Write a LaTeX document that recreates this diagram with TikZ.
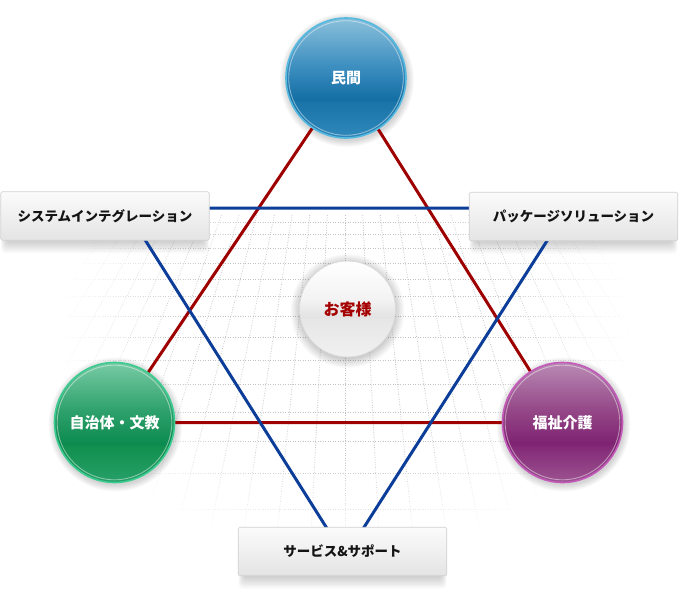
\documentclass[tikz,border=0pt]{standalone}
\usepackage{fontspec}
\newfontfamily\jp{Noto Sans CJK JP}
\usetikzlibrary{fadings,calc}
\pgfdeclarelayer{bg}\pgfsetlayers{bg,main}

\definecolor{lineRed}{HTML}{9E0000}
\definecolor{lineBlue}{HTML}{0B3D99}
\definecolor{gridgray}{HTML}{C4C4C4}
\definecolor{boxtop}{HTML}{FBFBFB}
\definecolor{boxbot}{HTML}{E4E4E4}
\definecolor{boxborder}{HTML}{D0D0D0}
\definecolor{centertext}{HTML}{A50000}
\definecolor{ringBlue}{HTML}{55B9E0}
\definecolor{ringGreen}{HTML}{3CCB90}
\definecolor{ringPurple}{HTML}{C45BBA}
\definecolor{ringGray}{HTML}{DADADA}

\definecolor{bB}{HTML}{3088BA}\definecolor{bL}{HTML}{1A74A9}\definecolor{bD}{HTML}{136EA4}
\definecolor{bM}{HTML}{3D8FC0}\definecolor{bT}{HTML}{8AC0DB}
\definecolor{gB}{HTML}{27A068}\definecolor{gL}{HTML}{11904F}\definecolor{gD}{HTML}{0B8A4F}
\definecolor{gM}{HTML}{2EA16C}\definecolor{gT}{HTML}{78CBA5}
\definecolor{pB}{HTML}{9C5391}\definecolor{pL}{HTML}{842A77}\definecolor{pD}{HTML}{7E2271}
\definecolor{pM}{HTML}{944787}\definecolor{pT}{HTML}{B98AB4}
\definecolor{cB}{HTML}{F1F1F1}\definecolor{cL}{HTML}{E6E6E6}\definecolor{cD}{HTML}{E3E3E3}
\definecolor{cM}{HTML}{F3F3F3}\definecolor{cT}{HTML}{FFFFFF}

\pgfdeclareverticalshading{blueglass}{100bp}{color(0bp)=(bB); color(25bp)=(bB); color(40bp)=(bL); color(41bp)=(bD); color(55bp)=(bM); color(75bp)=(bT); color(100bp)=(bT)}
\pgfdeclareverticalshading{greenglass}{100bp}{color(0bp)=(gB); color(25bp)=(gB); color(40bp)=(gL); color(41bp)=(gD); color(55bp)=(gM); color(75bp)=(gT); color(100bp)=(gT)}
\pgfdeclareverticalshading{purpleglass}{100bp}{color(0bp)=(pB); color(25bp)=(pB); color(40bp)=(pL); color(41bp)=(pD); color(55bp)=(pM); color(75bp)=(pT); color(100bp)=(pT)}
\pgfdeclareverticalshading{whiteglass}{100bp}{color(0bp)=(cB); color(25bp)=(cB); color(45bp)=(cL); color(46bp)=(cD); color(55bp)=(cM); color(75bp)=(cT); color(100bp)=(cT)}

\pgfdeclareradialshading{vigsh}{\pgfpoint{0bp}{0bp}}{color(0bp)=(black); color(13bp)=(black); color(24bp)=(white); color(50bp)=(white)}
\pgfdeclarefading{vignette}{\pgfuseshading{vigsh}}

\begin{document}
\begin{tikzpicture}[x=1pt,y=-1pt,
  redline/.style={line width=3pt, draw=lineRed},
  blueline/.style={line width=3pt, draw=lineBlue},
  gridline/.style={draw=gridgray, line width=0.8pt, dash pattern=on 0.8pt off 1.7pt},
  ball/.style={circle, minimum size=120pt, inner sep=0pt, line width=1.6pt, text=white,
    font=\jp\bfseries\fontsize{15}{18}\selectfont},
  centerball/.style={circle, minimum size=96pt, inner sep=0pt, line width=0.8pt, draw=ringGray,
    shading=whiteglass, text=centertext, font=\jp\bfseries\fontsize{16}{19}\selectfont},
  box/.style={rectangle, rounded corners=1.5pt, draw=boxborder, line width=0.6pt,
    top color=boxtop, bottom color=boxbot, text=black!92,
    font=\jp\bfseries\fontsize{13.5}{16}\selectfont,
    minimum height=48.5pt, minimum width=208.5pt, inner sep=0pt}
]
\useasboundingbox (0,0) rectangle (680,600);

% blue triangle vertices
\coordinate (bLv) at (125,208);
\coordinate (bRv) at (568,208);
\coordinate (bBv) at (345,557);

% boxes
\node[box] (si) at (105,216) {システムインテグレーション};
\node[box] (pk) at (573.5,216.5) {パッケージソリューション};
\node[box] (sv) at (342.5,551.5) {サービス\&サポート};

% circles
\node[ball, draw=ringBlue, shading=blueglass] (min) at (346,78) {民間};
\node[ball, draw=ringGreen, shading=greenglass] (jichi) at (114.5,422.5) {自治体・文教};
\node[ball, draw=ringPurple, shading=purpleglass] (fuku) at (562.5,422.5) {福祉介護};
\node[centerball] (cust) at (347.5,309) {お客様};

\foreach \n in {min,jichi,fuku}
  \draw[white, opacity=0.45, line width=0.9pt] (\n.center) circle[radius=57.3];

\begin{pgfonlayer}{bg}
  \fill[white] (0,0) rectangle (680,600);
  % perspective grid
  \begin{scope}
    \clip (345,335) ellipse [x radius=290, y radius=220];
    \foreach \k in {-14,...,14}
      \draw[gridline] ({345+\k*22/430*345},215) -- ({345+\k*22/430*665},535);
    \foreach \yy in {222,234.5,248.1,263.0,279.2,296.8,316.0,337.0,359.9,384.8,411.9,441.5,473.8,509.0}
      \draw[gridline] (50,\yy) -- (640,\yy);
  \end{scope}
  \fill[white, path fading=vignette] (45,105) rectangle (645,565);
  % shadows
  \foreach \n in {min,jichi,fuku}
    \foreach \i in {1,...,7}
      \fill[black, opacity=0.022] ($(\n.center)+(1,2)$) circle[radius={60+\i}];
  \foreach \i in {1,...,10}
    \fill[black, opacity=0.02] ($(cust.center)+(0,2)$) circle[radius={47+\i}];
  \foreach \n in {si,pk,sv}
    \foreach \i in {1,...,9}
      \fill[black, opacity=0.018, rounded corners=4pt]
        ($(\n.north west)+(6-0.6*\i,12)$) rectangle ($(\n.south east)+(-6+0.6*\i,1+1.3*\i)$);
  % connectors
  \draw[redline] (min.center) -- (jichi.center) -- (fuku.center) -- cycle;
  \draw[blueline] (bLv) -- (bRv) -- (bBv) -- cycle;
\end{pgfonlayer}
\end{tikzpicture}
\end{document}
